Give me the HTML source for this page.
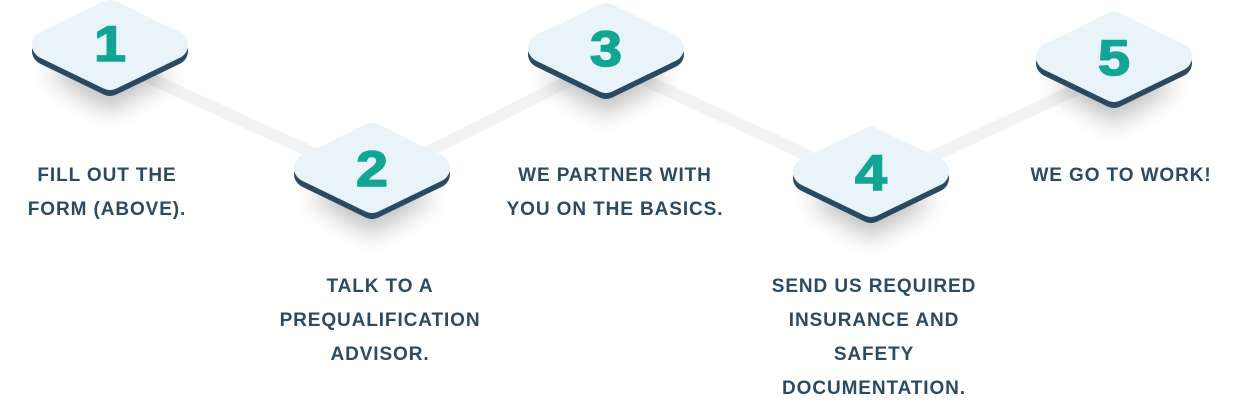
<!DOCTYPE html>
<html><head><style>
html,body{margin:0;padding:0;background:#fff;}
body{width:1233px;height:407px;position:relative;overflow:hidden;font-family:"Liberation Sans",sans-serif;}
.t{position:absolute;color:#2b4a64;font-weight:bold;font-size:19px;line-height:34px;text-align:center;width:300px;margin-left:-150px;letter-spacing:0.9px;}
</style></head><body>
<svg width="1233" height="407" style="position:absolute;left:0;top:0">
<defs>
<filter id="sh" x="-50%" y="-50%" width="200%" height="200%"><feGaussianBlur stdDeviation="12"/></filter>
<g id="d">
 <polygon points="0,-36 62,0 0,36 -62,0" fill="#000" opacity="0.25" filter="url(#sh)" transform="translate(0,30)"/>
 <polygon points="0,-31 64,0 0,31 -64,0" fill="#2a4a63" stroke="#2a4a63" stroke-width="28" stroke-linejoin="round" transform="translate(0,6)"/>
 <polygon points="0,-31 64,0 0,31 -64,0" fill="#e9f4fa" stroke="#e9f4fa" stroke-width="28" stroke-linejoin="round"/>
</g>
</defs>
<g stroke="#f2f3f5" stroke-width="12">
<line x1="110" y1="60" x2="372" y2="180"/>
<line x1="372" y1="180" x2="606" y2="62"/>
<line x1="606" y1="62" x2="871" y2="185"/>
<line x1="871" y1="185" x2="1114" y2="72"/>
</g>
<use href="#d" x="110" y="45"/>
<use href="#d" x="372" y="168"/>
<use href="#d" x="606" y="48"/>
<use href="#d" x="871" y="172"/>
<use href="#d" x="1114" y="57"/>
<g fill="#12a594" font-family="Liberation Sans,sans-serif" font-weight="bold" font-size="50" text-anchor="middle" stroke="#12a594" stroke-width="1.5">
<text x="110" y="61" transform="translate(110 0) scale(1.15 1) translate(-110 0)">1</text>
<text x="372" y="186" transform="translate(372 0) scale(1.15 1) translate(-372 0)">2</text>
<text x="606" y="66" transform="translate(606 0) scale(1.15 1) translate(-606 0)">3</text>
<text x="871" y="190" transform="translate(871 0) scale(1.15 1) translate(-871 0)">4</text>
<text x="1114" y="75" transform="translate(1114 0) scale(1.15 1) translate(-1114 0)">5</text>
</g>
</svg>
<div class="t" style="left:107px;top:159px">FILL OUT THE<br>FORM (ABOVE).</div>
<div class="t" style="left:380px;top:270px">TALK TO A<br>PREQUALIFICATION<br>ADVISOR.</div>
<div class="t" style="left:615px;top:159px">WE PARTNER WITH<br>YOU ON THE BASICS.</div>
<div class="t" style="left:874px;top:270px">SEND US REQUIRED<br>INSURANCE AND<br>SAFETY<br>DOCUMENTATION.</div>
<div class="t" style="left:1121px;top:159px">WE GO TO WORK!</div>
</body></html>
